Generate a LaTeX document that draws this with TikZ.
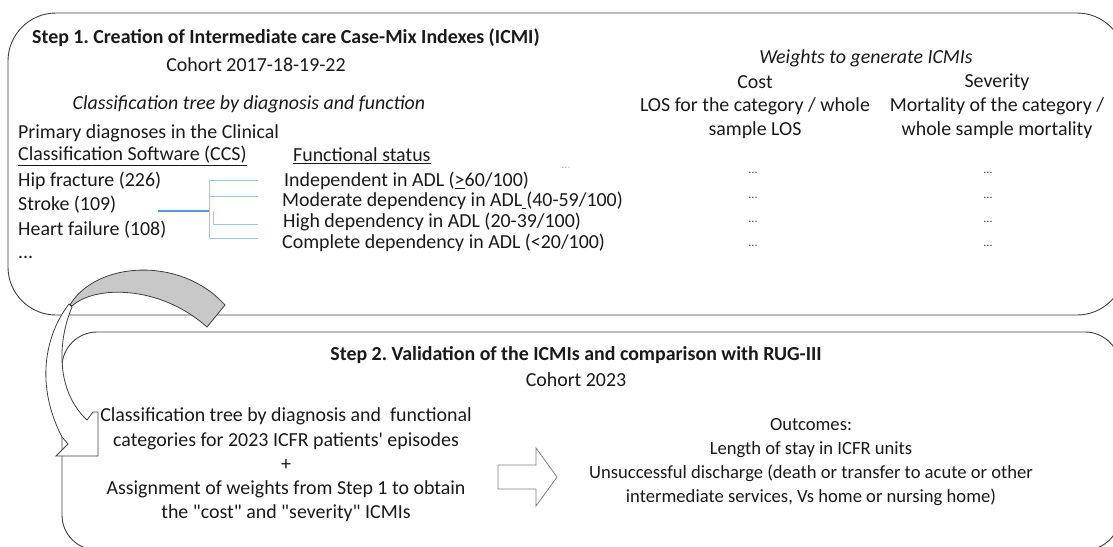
\documentclass[tikz,border=0pt]{standalone}
\usepackage{fontspec}
\setmainfont{Carlito}[Ligatures=TeXOff]
\frenchspacing
\definecolor{edge}{HTML}{404040}
\definecolor{txtc}{HTML}{1A1A1A}
\definecolor{treeblue}{HTML}{5B9BD5}
\definecolor{treelight}{HTML}{A9C4DE}
\definecolor{dotblue}{HTML}{2F5597}
\definecolor{arrowgray}{HTML}{C8C8C8}
\newcommand\fs{\fontsize{19.9}{24.2}\selectfont}
\newcommand\fso{\fontsize{18.6}{24.2}\selectfont}
\newcommand\fsmall{\fontsize{12}{13}\selectfont}
\begin{document}
\begin{tikzpicture}[x=1pt,y=-1pt,
  txt/.style={inner sep=0pt, text=txtc, font=\fs},
  ltxt/.style={txt, anchor=west},
  ctxt/.style={txt, align=center},
  dotx/.style={inner sep=0pt, text=dotblue, font=\fsmall},
  panel/.style={draw=edge, line width=0.9pt, fill=white},
  treemain/.style={draw=treeblue, line width=1.3pt},
  treebranch/.style={draw=treelight, line width=0.8pt},
  blockarrow/.style={draw=gray, line width=0.8pt, fill=white, line join=miter},
  twistback/.style={draw=edge, line width=0.8pt, fill=arrowgray},
  twistfront/.style={draw=edge, line width=0.8pt, fill=white, line join=miter}]
\useasboundingbox (0,0) rectangle (1113,546);
% panels
\draw[panel, rounded corners=48pt] (8,13) rectangle (1125,315);
\draw[panel, rounded corners=35pt] (62,332) rectangle (1120,550);

% ---- Step 1 ----
\node[ltxt, font=\fs\bfseries] (t1) at (32,38) {Step 1. Creation of Intermediate care Case-Mix Indexes (ICMI)};
\node[ctxt] (c1) at (256,65) {Cohort 2017-18-19-22};
\node[ctxt, font=\fs\itshape] (it1) at (249,104) {Classification tree by diagnosis and function};
\node[ltxt] (pd) at (18,133) {Primary diagnoses in the Clinical};
\node[ltxt] (ccs) at (18,156) {\underline{Classification Software (CCS)}};
\node[ltxt] (fst) at (293,156) {\underline{Functional status}};
\node[ltxt] (hip) at (18,181) {Hip fracture (226)};
\node[ltxt] (stk) at (18,205) {Stroke (109)};
\node[ltxt] (hf) at (18,230) {Heart failure (108)};
\node[ltxt] (more) at (18,257) {...};
\node[ltxt] (f1) at (284,181) {Independent in ADL (\underline{>}60/100)};
\node[ltxt] (f2) at (282,201) {Moderate dependency in ADL\underline{\hspace{4pt}}(40-59/100)};
\node[ltxt] (f3) at (283,222) {High dependency in ADL (20-39/100)};
\node[ltxt] (f4) at (282,243) {Complete dependency in ADL (<20/100)};

% tree
\coordinate (ta) at (158,211);
\coordinate (tb) at (209,211);
\coordinate (vt) at (209,180);
\coordinate (vb) at (209,238);
\coordinate (b1) at (258,180);
\coordinate (b2s) at (209,196);
\coordinate (b2) at (258,196);
\coordinate (b3s) at (213,211);
\coordinate (b3k) at (213,224);
\coordinate (b3) at (258,224);
\coordinate (b4) at (258,238);
\draw[treebranch] (vt) -- (vb);
\draw[treebranch] (vt) -- (b1);
\draw[treebranch] (b2s) -- (b2);
\draw[treebranch] (b3s) -- (b3k) -- (b3);
\draw[treebranch] (vb) -- (b4);
\draw[treemain] (ta) -- (tb);

% weights
\node[ctxt, font=\fs\itshape] (w) at (866,58) {Weights to generate ICMIs};
\node[ctxt] (cost) at (755,82) {Cost};
\node[ctxt] (sev) at (997,82) {Severity};
\node[ctxt] (los) at (755,118) {LOS for the category / whole\\sample LOS};
\node[ctxt] (mort) at (997,118) {Mortality of the category /\\whole sample mortality};
\node[inner sep=0pt, text=black!25, font=\fsmall] (faint) at (566,168) {...};
\foreach \yy [count=\i] in {173,198,222,246}{
  \node[dotx] (dc\i) at (753,\yy) {...};
  \node[dotx] (ds\i) at (988,\yy) {...};
}

% ---- Step 2 ----
\node[ctxt, font=\fs\bfseries] (t2) at (576,355) {Step 2. Validation of the ICMIs and comparison with RUG-III};
\node[ctxt] (c2) at (576,380) {Cohort 2023};
\node[ctxt] (left) at (286,465) {Classification tree by diagnosis and\ \ functional\\categories for 2023 ICFR patients' episodes\\+\\Assignment of weights from Step 1 to obtain\\the "cost" and "severity" ICMIs};
\node[ctxt, font=\fso] (out) at (811,462) {Outcomes:\\Length of stay in ICFR units\\Unsuccessful discharge (death or transfer to acute or other\\intermediate services, Vs home or nursing home)};

% block arrow
\draw[blockarrow] (498,465) -- (536,465) -- (536,448) -- (557,477) -- (536,506) -- (536,489) -- (498,489) -- cycle;

% twisted curved arrow
\draw[twistback] (70,305) .. controls (95,262) and (180,255) .. (225,305)
  -- (207,327) .. controls (160,285) and (95,285) .. (72,306) -- cycle;
\draw[twistfront] (69,304) .. controls (45,335) and (35,385) .. (62,437)
  -- (68,444) -- (56,456) -- (98,456) -- (98,412) -- (93,412) -- (87,420)
  .. controls (55,390) and (58,340) .. (72,307) -- cycle;
\end{tikzpicture}
\end{document}
